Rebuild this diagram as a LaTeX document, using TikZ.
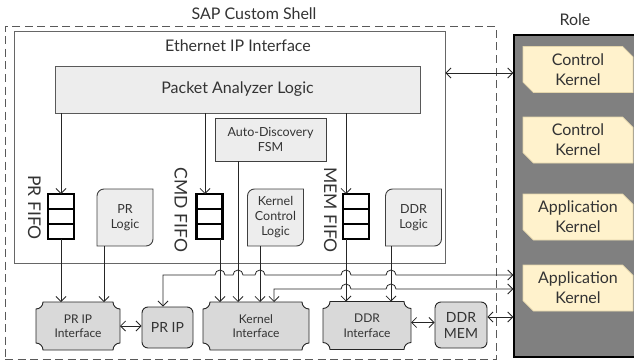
\documentclass[tikz,border=0pt]{standalone}
\usepackage{fontspec}
\setmainfont{Lato}
\usetikzlibrary{arrows.meta,shapes.misc,calc,backgrounds}

\definecolor{kernelfill}{HTML}{FFF2CC}
\definecolor{kernelline}{HTML}{E3D5AC}

\def\hoprad{5pt}
\def\cornerrad{7pt}

% interface box with scooped corners, drawn round a named node
\newcommand{\scoopbox}[1]{%
	\draw [scoopline] ([xshift=\cornerrad]#1.south west) -- ([xshift=-\cornerrad]#1.south east)
	arc [start angle=180, end angle=90, radius=\cornerrad] -- ([yshift=-\cornerrad]#1.north east)
	arc [start angle=270, end angle=180, radius=\cornerrad] -- ([xshift=\cornerrad]#1.north west)
	arc [start angle=0, end angle=-90, radius=\cornerrad] -- ([yshift=\cornerrad]#1.south west)
	arc [start angle=90, end angle=0, radius=\cornerrad] -- cycle;}

% logic box, rounded at top left and bottom right
\newcommand{\tabbox}[1]{%
	\draw [tabline] (#1.south west) -- ([yshift=-\cornerrad]#1.north west)
	arc [start angle=180, end angle=90, radius=\cornerrad] -- (#1.north east)
	-- ([yshift=\cornerrad]#1.south east)
	arc [start angle=0, end angle=-90, radius=\cornerrad] -- cycle;}

\begin{document}
\begin{tikzpicture}
	[
		x=1pt, y=1pt,
		>={Straight Barb[length=5pt,width=10pt]},
		txt/.style={text=black!80, align=center},
		big/.style={txt, font=\fontsize{16}{20}\selectfont},
		small/.style={txt, font=\fontsize{12.5}{15}\selectfont},
		fifolabel/.style={txt, font=\fontsize{17.5}{20}\selectfont, rotate=-90},
		shellbox/.style={draw=black!65, line width=0.9pt, dash pattern=on 8pt off 4.5pt},
		ethbox/.style={draw=black!60, line width=0.9pt},
		palbox/.style={big, draw=black!65, fill=black!7, line width=0.9pt},
		fsmbox/.style={small, draw=black!75, fill=black!7, line width=0.9pt},
		logicbox/.style={small, outer sep=0pt, minimum width=56pt, minimum height=57pt},
		tabline/.style={draw=black!75, fill=black!7, line width=0.9pt},
		fifo/.style={draw=black, line width=2.6pt, fill=white, minimum width=26pt, minimum height=45pt, outer sep=0pt},
		fifoline/.style={draw=black, line width=2.6pt},
		ifbox/.style={txt, font=\fontsize{12}{14.5}\selectfont, outer sep=0pt, minimum height=48pt},
		scoopline/.style={draw=black!85, fill=black!15, line width=0.9pt},
		ipbox/.style={txt, font=\fontsize{14}{16}\selectfont, rounded corners=6pt, draw=black!85, fill=black!15, line width=0.9pt},
		rolebox/.style={draw=black, fill=black!50, line width=1.5pt},
		kernel/.style={big, chamfered rectangle, chamfered rectangle corners={north east,south west}, chamfered rectangle xsep=7pt, fill=kernelfill, draw=kernelline, line width=0.6pt, minimum width=110pt, minimum height=46pt, inner sep=0pt},
		link/.style={draw=black!85, line width=0.8pt}
	]

	\useasboundingbox (0,0) rectangle (634,-361);

	\node [shellbox, minimum width=491pt, minimum height=333pt] (shell) at (250.5,-193) {};
	\node [big, anchor=base] (shelltitle) at (254,-20) {SAP Custom Shell};

	\node [ethbox, minimum width=431pt, minimum height=232pt] (eth) at (229.5,-147) {};
	\node [big, anchor=base] (ethtitle) at (238,-52) {Ethernet IP Interface};

	\node [palbox, minimum width=365pt, minimum height=47pt] (pal) at (237.5,-89.5) {Packet Analyzer Logic};
	\node [fsmbox, minimum width=111pt, minimum height=43pt] (fsm) at (270.5,-139.5) {Auto-Discovery\\FSM};

	% FIFOs
	\node [fifo] (prf) at (61,-216.5) {};
	\node [fifo] (cmdf) at (209.5,-216.5) {};
	\node [fifo] (memf) at (356,-216.5) {};
	\foreach \f in {prf,cmdf,memf}
		\foreach \k in {1,2}
			\draw [fifoline] ($(\f.north west)!\k/3!(\f.south west)$) -- ($(\f.north east)!\k/3!(\f.south east)$);

	\node [fifolabel] (prflabel) at (34.5,-207.5) {PR FIFO};
	\node [fifolabel] (cmdflabel) at (181,-210) {CMD FIFO};
	\node [fifolabel] (memflabel) at (330.5,-210) {MEM FIFO};

	\node [logicbox] (prl) at (125,-217.5) {PR\\Logic};
	\node [logicbox] (kcl) at (275.5,-217.5) {Kernel\\Control\\Logic};
	\node [logicbox] (ddrl) at (413.5,-217.5) {DDR\\Logic};

	% bottom row
	\node [ifbox, minimum width=84pt] (prif) at (78,-326) {PR IP\\Interface};
	\node [ipbox, minimum width=51pt, minimum height=41pt] (prip) at (167.5,-327.5) {PR IP};
	\node [ifbox, minimum width=106pt] (kif) at (256,-326) {Kernel\\Interface};
	\node [ifbox, minimum width=88pt] (ddrif) at (367,-325.5) {DDR\\Interface};
	\node [ipbox, minimum width=52pt, minimum height=46pt] (ddrmem) at (461,-325) {DDR\\MEM};

	% role
	\node [rolebox, minimum width=122pt, minimum height=322pt] (role) at (575,-196) {};
	\node [big, anchor=base] (roletitle) at (575,-26) {Role};
	\node [kernel] (ck1) at (578,-69.5) {Control\\Kernel};
	\node [kernel] (ck2) at (578,-140) {Control\\Kernel};
	\node [kernel] (ak1) at (578,-217) {Application\\Kernel};
	\node [kernel] (ak2) at (578,-288) {Application\\Kernel};

	\coordinate (cmdin) at ([xshift=-4.5pt]cmdf.north);
	\coordinate (memin) at ([xshift=-10pt]memf.north);
	\coordinate (cmdout) at ([xshift=10.5pt]cmdf.south);
	\coordinate (memout) at ([xshift=-10pt]memf.south);
	\coordinate (prlout) at ([xshift=-21pt]prl.south);
	\coordinate (fsmout) at ([xshift=-32.5pt]fsm.south);
	\coordinate (kclout) at ([xshift=-15.5pt]kcl.south);
	\coordinate (ddrout) at ([xshift=-22.5pt]ddrl.south);
	\coordinate (ipdrop) at ([xshift=-4.5pt]prip.north);
	\coordinate (kifdrop) at ([xshift=18pt]kif.north);
	\coordinate (ya) at (0,-275);
	\coordinate (yb) at (0,-289);

	\draw [link,->] (prf.north |- pal.south) -- (prf.north);
	\draw [link,->] (cmdin |- pal.south) -- (cmdin);
	\draw [link,->] (memin |- pal.south) -- (memin);

	\draw [link,->] (prf.south) -- (prf.south |- prif.north);
	\draw [link,->] (prlout) -- (prlout |- prif.north);
	\draw [link,->] (cmdout) -- (cmdout |- kif.north);
	\draw [link,->] (fsmout) -- (fsmout |- kif.north);
	\draw [link,->] (kclout) -- (kclout |- kif.north);
	\draw [link,->] (memout) -- (memout |- ddrif.north);
	\draw [link,->] (ddrout) -- (ddrout |- ddrif.north);

	\draw [link,<->] (prif.east) -- (prif.east -| prip.west);
	\draw [link,<->] ([yshift=3pt]ddrif.east) -- ([yshift=3pt]ddrif.east -| ddrmem.west);
	\draw [link,<->] ([yshift=8pt]ddrmem.east) -- ([yshift=8pt]ddrmem.east -| role.west);
	\draw [link,<->] ([yshift=74pt]eth.east) -- ([yshift=74pt]eth.east -| role.west);

	% role links hopping over the vertical lines
	\draw [link,<->] (ipdrop) -- (ipdrop |- ya)
		\foreach \v in {cmdout,fsmout,kclout,memout,ddrout}
			{ -- ([xshift=-\hoprad]\v |- ya) arc [start angle=180, end angle=0, radius=\hoprad] }
		-- (role.west |- ya);
	\draw [link,<->] (kifdrop) -- (kifdrop |- yb)
		\foreach \v in {memout,ddrout}
			{ -- ([xshift=-\hoprad]\v |- yb) arc [start angle=180, end angle=0, radius=\hoprad] }
		-- (role.west |- yb);

	\begin{scope}[on background layer]
		\foreach \n in {prif,kif,ddrif} {\scoopbox{\n}}
		\foreach \n in {prl,kcl,ddrl} {\tabbox{\n}}
	\end{scope}

\end{tikzpicture}
\end{document}
